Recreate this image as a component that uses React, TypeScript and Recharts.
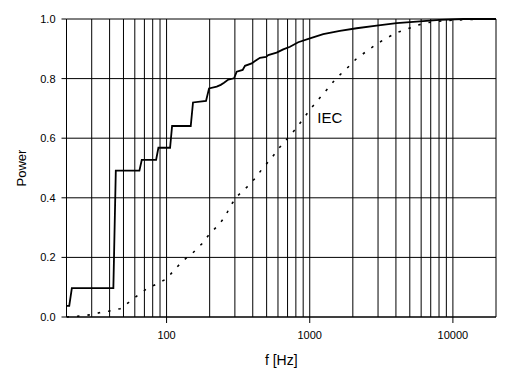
import React from 'react';
import { LineChart, Line, XAxis, YAxis, CartesianGrid, ReferenceLine, ReferenceDot } from 'recharts';

const solidFreq = [20, 20.9, 21.8, 42.5, 44.2, 64.6, 67.1, 84.5, 87.7, 105.8, 109.3, 147.5, 153, 188.6, 198, 224, 239, 252, 270, 296, 309, 340, 353, 393, 415, 449, 495, 513, 587, 653, 728, 831, 1003, 1242, 1624, 2125, 2930, 4041, 5572, 8101, 11780, 20000];
const solidPower = [0.037, 0.037, 0.097, 0.097, 0.491, 0.491, 0.527, 0.527, 0.568, 0.568, 0.641, 0.641, 0.72, 0.725, 0.767, 0.773, 0.779, 0.786, 0.797, 0.801, 0.823, 0.829, 0.843, 0.851, 0.859, 0.87, 0.873, 0.879, 0.887, 0.898, 0.907, 0.922, 0.935, 0.949, 0.96, 0.969, 0.978, 0.986, 0.991, 0.997, 1.0, 1.0];

const iecFreq = [20, 24.2, 28.9, 33.8, 39.9, 47.4, 54.7, 62.6, 71.9, 84.5, 100, 113.3, 130.4, 152.3, 176, 199, 229.8, 258.9, 278.8, 314, 362.8, 414.6, 469.2, 536, 603, 690, 797, 901, 1020, 1165, 1333, 1523, 1797, 2101, 2495, 2930, 3440, 4041, 4823, 5718, 6714, 8500, 11000, 15000, 20000];
const iecPower = [0, 0.003, 0.007, 0.014, 0.02, 0.028, 0.05, 0.072, 0.093, 0.11, 0.128, 0.158, 0.189, 0.215, 0.245, 0.278, 0.308, 0.34, 0.373, 0.407, 0.435, 0.465, 0.499, 0.531, 0.564, 0.596, 0.631, 0.665, 0.7, 0.733, 0.766, 0.8, 0.832, 0.865, 0.892, 0.916, 0.936, 0.954, 0.967, 0.98, 0.988, 0.994, 0.997, 0.999, 1.0];

const xTicks = [100, 1000, 10000];
const yTicks = [0, 0.2, 0.4, 0.6, 0.8, 1.0];
const gridFreqs = [30, 40, 50, 60, 70, 80, 90, 100, 200, 300, 400, 500, 600, 700, 800, 900, 1000, 2000, 3000, 4000, 5000, 6000, 7000, 8000, 9000, 10000, 20000];
const xLabel = 'f [Hz]';
const yLabel = 'Power';
const curveLabel = 'IEC';
const curveLabelPos = { f: 1128, p: 0.67 };

const solidData = solidFreq.map((f, i) => ({ f, p: solidPower[i] }));
const iecData = iecFreq.map((f, i) => ({ f, p: iecPower[i] }));

const FONT = "Arial, 'Liberation Sans', sans-serif";

const YLabel = (props: any) => {
  const vb = props.viewBox || {};
  const cx = vb.x + 16.5;
  const cy = vb.y + vb.height / 2;
  return (
    <text x={cx} y={cy} transform={`rotate(-90 ${cx} ${cy})`} textAnchor="middle" dominantBaseline="central" fontSize={13} fontFamily={FONT} fill="#000">
      {yLabel}
    </text>
  );
};

export default function App() {
  return (
    <div style={{ position: 'absolute', left: 0, top: 0, width: 512, height: 377, background: '#fff' }}>
      <LineChart width={512} height={377} margin={{ top: 19, right: 16, bottom: 8, left: 5 }}>
        <CartesianGrid vertical={false} stroke="#000" strokeWidth={1} />
        {gridFreqs.map((g) => (
          <ReferenceLine key={g} x={g} stroke="#000" strokeWidth={1} />
        ))}
        <XAxis
          dataKey="f"
          type="number"
          scale="log"
          domain={[20, 20000]}
          allowDataOverflow
          ticks={xTicks}
          tickFormatter={(v: number) => String(v)}
          height={52}
          tickSize={6}
          tickMargin={8}
          stroke="#000"
          tick={{ fill: '#000', fontSize: 11, fontFamily: FONT }}
          label={{ value: xLabel, position: 'insideBottom', offset: 4, fontSize: 14, fontFamily: FONT, fill: '#000' }}
        />
        <YAxis
          dataKey="p"
          type="number"
          domain={[0, 1]}
          ticks={yTicks}
          tickFormatter={(v: number) => v.toFixed(1)}
          width={61.5}
          tickSize={5}
          tickMargin={6}
          stroke="#000"
          tick={{ fill: '#000', fontSize: 11, fontFamily: FONT }}
          label={<YLabel />}
        />
        <Line data={iecData} dataKey="p" type="linear" stroke="#000" strokeWidth={1.6} strokeDasharray="2.5 8" dot={false} isAnimationActive={false} />
        <Line data={solidData} dataKey="p" type="linear" stroke="#000" strokeWidth={1.8} dot={false} isAnimationActive={false} />
        <ReferenceDot x={curveLabelPos.f} y={curveLabelPos.p} r={0} stroke="none" fill="none"
          label={{ value: curveLabel, position: 'right', offset: 0, fontSize: 15, fontFamily: FONT, fill: '#000' }} />
      </LineChart>
    </div>
  );
}
